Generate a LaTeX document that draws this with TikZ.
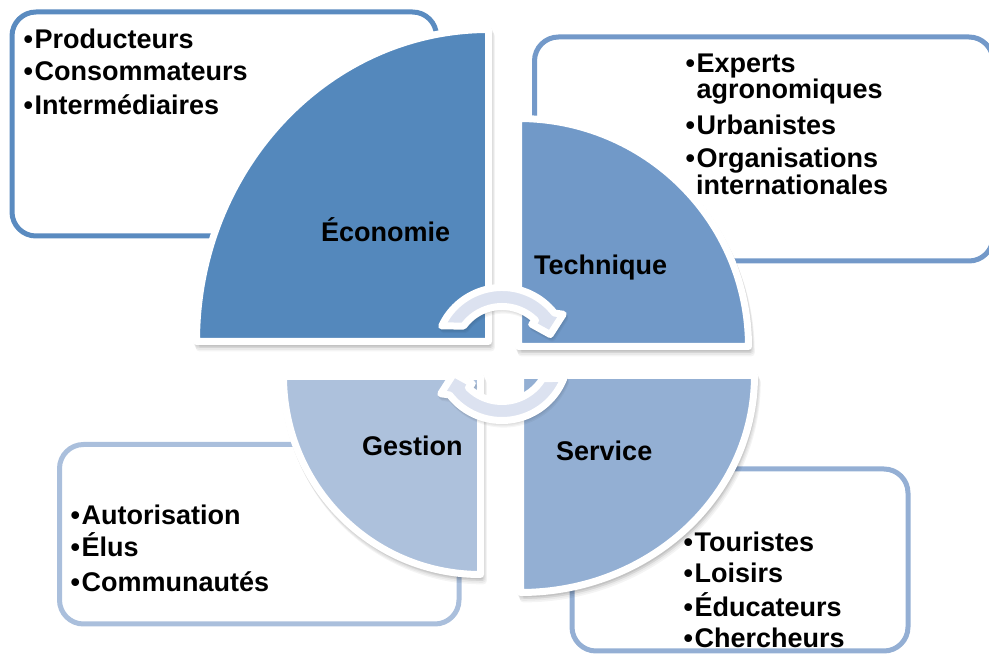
\documentclass[tikz,border=0pt]{standalone}
\usepackage{fontspec}
\setmainfont{Liberation Sans}
\usetikzlibrary{calc}
\definecolor{ecoc}{HTML}{5488BC}
\definecolor{tecc}{HTML}{7199C8}
\definecolor{gesc}{HTML}{ADC1DC}
\definecolor{serc}{HTML}{93AFD3}
\definecolor{ecob}{HTML}{5A8BC0}
\definecolor{tecb}{HTML}{7399C9}
\definecolor{gesb}{HTML}{AABFDC}
\definecolor{serb}{HTML}{94AFD4}
\definecolor{arrc}{HTML}{DCE2F0}
\newcommand{\bul}{•\kern1.5pt}
\begin{document}
\begin{tikzpicture}[x=1pt,y=1pt,
  box/.style={line width=5pt, rounded corners=24pt},
  quad/.style={draw=white, line width=7pt, line join=round},
  shad/.style={fill=black, draw=black, line width=7pt, line join=round, opacity=0.045},
  txt/.style={anchor=base west, inner sep=0pt, font=\fontsize{27}{32}\selectfont\bfseries},
  arr/.style={draw=white, fill=arrc, line width=7pt, line join=round},
  ecopath/.style={insert path={(488.5,313.5) -- (196.5,313.5) arc[start angle=180, end angle=90, x radius=292, y radius=312] -- cycle}},
  tecpath/.style={insert path={(518.5,308.5) -- (518.5,536.5) arc[start angle=90, end angle=0, x radius=230, y radius=228] -- cycle}},
  gespath/.style={insert path={(480.5,278.5) -- (283.5,278.5) arc[start angle=180, end angle=270, x radius=197, y radius=198] -- cycle}},
  serpath/.style={insert path={(520.5,279.5) -- (754.5,279.5) arc[start angle=0, end angle=-90, x radius=234, y radius=217] -- cycle}},
  toparr/.style={insert path={(155.1:66.5) arc[start angle=155.1, end angle=38, radius=66.5]
     -- (33:73) -- (22:52) -- (45:42) -- (45:47.5)
     arc[start angle=45, end angle=143.9, radius=47.5] -- cycle}},
  botarr/.style={insert path={(-21.6:66.5) arc[start angle=-21.6, end angle=-142, radius=66.5]
     -- (213:73) -- (202:52) -- (225:42) -- (225:47.5)
     arc[start angle=225, end angle=328.9, radius=47.5] -- cycle}},
]
\useasboundingbox (0,0) rectangle (989,655);

% boxes
\draw[box, draw=ecob] (12,419) rectangle (436.5,643);
\draw[box, draw=tecb] (534.5,394) rectangle (993,618);
\draw[box, draw=gesb] (59.5,31) rectangle (459,210.5);
\draw[box, draw=serb] (572,4) rectangle (908,186);

% shadows
\foreach \s in {1,2,3,4}{
  \path[shad, shift={(0.7*\s,-1.6*\s)}, ecopath];
  \path[shad, shift={(0.7*\s,-1.6*\s)}, tecpath];
  \path[shad, shift={(0.7*\s,-1.6*\s)}, gespath];
  \path[shad, shift={(0.7*\s,-1.6*\s)}, serpath];
}

% quadrants
\path[quad, fill=ecoc, ecopath];
\path[quad, fill=tecc, tecpath];
\path[quad, fill=gesc, gespath];
\path[quad, fill=serc, serpath];

% quadrant labels
\node[txt] (leco) at (321,413) {Économie};
\node[txt] (ltec) at (534,380) {Technique};
\node[txt] (lges) at (362,199) {Gestion};
\node[txt] (lser) at (556,194) {Service};

% box texts
\node[txt] (e1) at (23.5,606) {\bul Producteurs};
\node[txt] (e2) at (23.5,574) {\bul Consommateurs};
\node[txt] (e3) at (23.5,540) {\bul Intermédiaires};

\node[txt] (t1) at (685.5,582) {\bul Experts};
\node[txt] (t1b) at (696.5,556) {agronomiques};
\node[txt] (t2) at (685.5,520) {\bul Urbanistes};
\node[txt] (t3) at (685.5,487) {\bul Organisations};
\node[txt] (t3b) at (696,460) {internationales};

\node[txt] (g1) at (70.5,130) {\bul Autorisation};
\node[txt] (g2) at (70.5,98) {\bul Élus};
\node[txt] (g3) at (70.5,63) {\bul Communautés};

\node[txt] (s1) at (683.5,103) {\bul Touristes};
\node[txt] (s2) at (683.5,72) {\bul Loisirs};
\node[txt] (s3) at (683.5,38) {\bul Éducateurs};
\node[txt] (s4) at (683.5,7) {\bul Chercheurs};

% circular arrows
\begin{scope}[shift={(502,301)}]
  \coordinate (ac) at (0,0);
  \foreach \s in {1,2,3}{
    \path[shad, opacity=0.04, shift={(0.6*\s,-1.2*\s)}, toparr];
    \path[shad, opacity=0.04, shift={(0.6*\s,-1.2*\s)}, botarr];
  }
  \path[arr, toparr];
  \path[arr, botarr];
\end{scope}
\end{tikzpicture}
\end{document}
